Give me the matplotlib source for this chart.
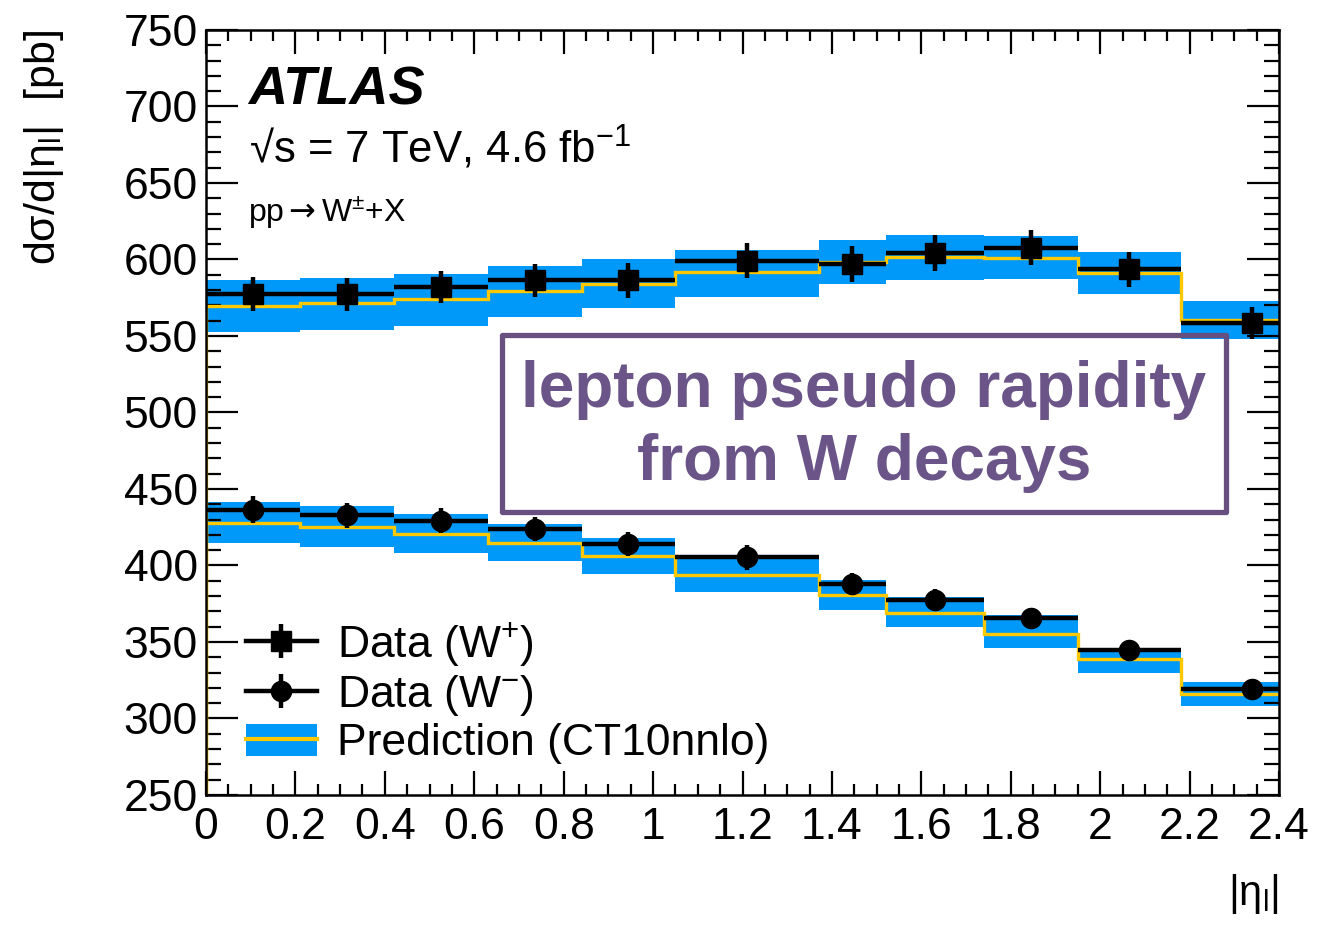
import matplotlib
matplotlib.use("Agg")
import matplotlib.pyplot as plt
from matplotlib.patches import Patch, Rectangle
from matplotlib.lines import Line2D
import numpy as np

# bins in |eta_l| (last bin runs past the axis end)
edges = [0, 0.21, 0.42, 0.63, 0.84, 1.05, 1.37, 1.52, 1.74, 1.95, 2.18, 2.5]

# W+ data and prediction
wplus = [577.5, 577.2, 582.0, 586.3, 586.3, 599.3, 597.0, 604.0, 607.6, 593.5, 558.7]
wplus_err = [10.9, 10.8, 10.7, 11.0, 11.2, 11.4, 12.0, 11.7, 11.4, 11.2, 10.5]
wplus_pred = [569.6, 571.7, 574.0, 579.3, 584.0, 592.0, 598.5, 601.5, 600.7, 591.3, 560.4]
wplus_lo = [552.8, 553.7, 556.5, 562.4, 568.5, 575.8, 583.7, 586.3, 587.0, 577.6, 547.8]
wplus_hi = [586.3, 588.0, 590.7, 595.7, 600.0, 606.5, 613.0, 615.9, 615.2, 605.0, 572.8]

# W- data and prediction
wminus = [436.5, 432.8, 429.3, 423.7, 414.1, 405.4, 388.0, 377.6, 365.9, 345.0, 319.3]
wminus_err = [8.6, 8.2, 8.3, 8.0, 8.0, 8.1, 7.0, 6.8, 6.5, 6.0, 5.5]
wminus_pred = [427.8, 425.4, 420.7, 414.8, 406.5, 393.9, 380.9, 369.1, 355.0, 338.7, 315.9]
wminus_lo = [414.6, 412.4, 408.0, 402.8, 394.6, 382.6, 370.7, 359.8, 346.1, 329.8, 308.0]
wminus_hi = [441.3, 438.7, 433.7, 427.2, 417.8, 406.5, 390.7, 379.3, 367.4, 346.3, 323.9]

xticks = [0, 0.2, 0.4, 0.6, 0.8, 1.0, 1.2, 1.4, 1.6, 1.8, 2.0, 2.2, 2.4]
xtick_labels = ["0", "0.2", "0.4", "0.6", "0.8", "1", "1.2", "1.4", "1.6", "1.8", "2", "2.2", "2.4"]
yticks = [250, 300, 350, 400, 450, 500, 550, 600, 650, 700, 750]

band_color = "#0099fa"
pred_color = "#ffc800"
purple = "#67507f"

plt.rcParams["font.family"] = ["Liberation Sans", "DejaVu Sans"]
plt.rcParams["mathtext.fontset"] = "custom"
plt.rcParams["mathtext.rm"] = "Liberation Sans"
plt.rcParams["mathtext.it"] = "Liberation Sans:italic"
plt.rcParams["mathtext.bf"] = "Liberation Sans:bold"
plt.rcParams["mathtext.sf"] = "DejaVu Sans"

fig = plt.figure(figsize=(13.34, 9.31), dpi=100)
ax = fig.add_axes([0.1544, 0.1461, 0.8044, 0.8217])

edges_a = np.array(edges)
centers = (edges_a[:-1] + edges_a[1:]) / 2
halfw = (edges_a[1:] - edges_a[:-1]) / 2

# prediction bands + central lines
for lo, hi, pred in [(wplus_lo, wplus_hi, wplus_pred), (wminus_lo, wminus_hi, wminus_pred)]:
    ax.stairs(hi, edges, baseline=lo, fill=True, color=band_color, lw=0, zorder=1)
    ax.stairs(pred, edges, color=pred_color, lw=2.4, zorder=2)

# data points
ax.errorbar(centers, wplus, xerr=halfw, yerr=wplus_err, fmt="s", ms=15,
            color="black", elinewidth=3.2, capsize=0, zorder=4)
ax.errorbar(centers, wminus, xerr=halfw, yerr=wminus_err, fmt="o", ms=14.5,
            color="black", elinewidth=3.2, capsize=0, zorder=4)

ax.set_xlim(0, 2.4)
ax.set_ylim(250, 750)
ax.set_xticks(xticks)
ax.set_xticklabels(xtick_labels)
ax.set_xticks(np.arange(0, 2.401, 0.05), minor=True)
ax.set_yticks(yticks)
ax.set_yticks(np.arange(250, 751, 10), minor=True)
ax.tick_params(axis="both", which="both", direction="in", top=True, right=True,
               labelsize=32, width=1.6)
ax.tick_params(axis="x", which="major", length=17, pad=9)
ax.tick_params(axis="x", which="minor", length=8)
ax.tick_params(axis="y", which="major", length=23, pad=6)
ax.tick_params(axis="y", which="minor", length=11)
for s in ax.spines.values():
    s.set_linewidth(1.8)

# axis titles
fig.text(0.033, 0.968, "dσ/d|η$_{\\rm l}$|  [pb]", rotation=90, ha="center", va="top", fontsize=31)
fig.text(0.959, 0.063, "|η$_{\\rm l}$|", ha="right", va="top", fontsize=30)

# ATLAS labels
ax.text(0.039, 0.902, "ATLAS", transform=ax.transAxes, fontsize=39,
        fontweight="bold", fontstyle="italic", va="baseline")
ax.text(0.040, 0.826, "√s = 7 TeV, 4.6 fb$^{-1}$", transform=ax.transAxes,
        fontsize=31.5, va="baseline")
ax.text(0.039, 0.749, "pp$\\mathsf{\\rightarrow}$W$^{\\pm}$+X", transform=ax.transAxes,
        fontsize=23, va="baseline")

# legend
def data_handle(marker, ms):
    line = Line2D([], [], color="black", lw=3.2, marker=marker, ms=ms)
    vbar = Line2D([], [], color="black", ls="none", marker="|", ms=24, mew=3.2)
    return (line, vbar)

pred_handle = (Patch(facecolor=band_color, edgecolor="none"), Line2D([], [], color=pred_color, lw=3))
ax.legend([data_handle("s", 15), data_handle("o", 14.5), pred_handle],
          ["Data (W$^{+}$)", "Data (W$^{-}$)", "Prediction (CT10nnlo)"],
          loc="lower left", bbox_to_anchor=(0.037, 0.04), frameon=False,
          fontsize=32, handlelength=1.6, handletextpad=0.45, labelspacing=0.12,
          borderpad=0, borderaxespad=0, handleheight=0.75, numpoints=1)

# annotation box
box = Rectangle((0.276, 0.370), 0.675, 0.231, transform=ax.transAxes, facecolor="none",
                edgecolor=purple, lw=3.8, zorder=6, joinstyle="round")
ax.add_patch(box)
ax.text(0.613, 0.482, "lepton pseudo rapidity\nfrom W decays", transform=ax.transAxes,
        ha="center", va="center", fontsize=46, fontweight="bold", color="#6a5488",
        linespacing=1.27, zorder=7)

fig.savefig("out.png", dpi=100)
